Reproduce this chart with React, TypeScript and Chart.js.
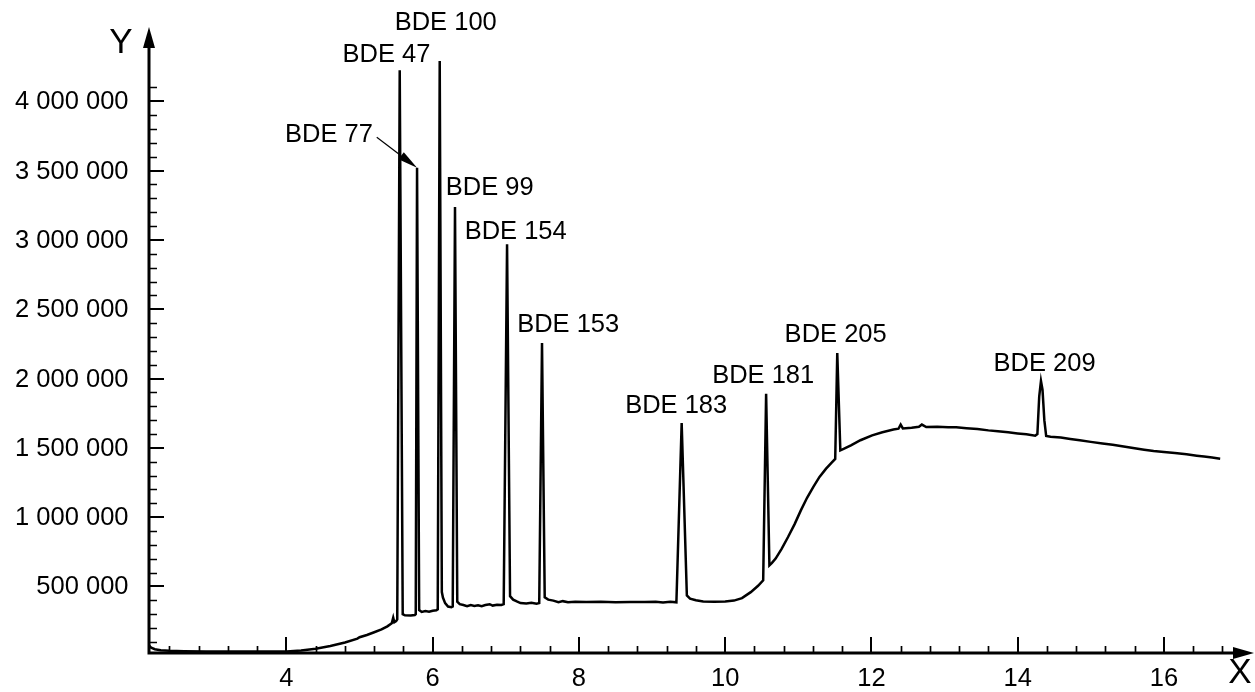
import React, { useEffect, useRef } from "react";
import { Chart, registerables } from "chart.js";

Chart.register(...registerables);

// Chromatogram trace: retention time (min) and detector response
const retentionTime = [
  2.12, 2.15, 2.2, 2.28, 2.4, 2.6, 2.9, 3.3, 3.7, 4.0,
  4.2, 4.4, 4.6, 4.8, 4.97, 5.0, 5.1, 5.2, 5.3, 5.38,
  5.44, 5.46, 5.475, 5.5, 5.515, 5.549, 5.59, 5.62, 5.7, 5.755,
  5.768, 5.786, 5.815, 5.85, 5.9, 5.95, 6.0, 6.05, 6.069, 6.096,
  6.125, 6.14, 6.17, 6.21, 6.255, 6.274, 6.305, 6.336, 6.37, 6.42,
  6.47, 6.52, 6.57, 6.62, 6.67, 6.72, 6.78, 6.82, 6.88, 6.94,
  6.971, 7.017, 7.058, 7.1, 7.15, 7.2, 7.28, 7.35, 7.42, 7.457,
  7.495, 7.532, 7.58, 7.65, 7.72, 7.78, 7.85, 7.95, 8.1, 8.3,
  8.5, 8.7, 8.9, 9.05, 9.15, 9.25, 9.333, 9.405, 9.476, 9.52,
  9.6, 9.7, 9.85, 10.0, 10.12, 10.23, 10.35, 10.45, 10.52, 10.56,
  10.605, 10.64, 10.69, 10.77, 10.86, 10.95, 11.035, 11.12, 11.206, 11.29,
  11.38, 11.45, 11.505, 11.533, 11.575, 11.62, 11.72, 11.85, 12.01, 12.15,
  12.3, 12.37, 12.4, 12.43, 12.55, 12.65, 12.69, 12.75, 12.9, 13.05,
  13.16, 13.3, 13.45, 13.6, 13.73, 13.87, 14.0, 14.12, 14.24, 14.27,
  14.295, 14.319, 14.34, 14.365, 14.39, 14.45, 14.59, 14.72, 14.85, 15.0,
  15.16, 15.3, 15.45, 15.6, 15.73, 15.86, 16.0, 16.15, 16.31, 16.45,
  16.55, 16.66, 16.77,
];

const intensity = [
  75000, 58000, 47000, 40000, 36000, 33000, 31000, 30000, 30000, 31000,
  38000, 50000, 70000, 96000, 124000, 134000, 150000, 170000, 190000, 212000,
  235000, 275000, 242000, 250000, 262000, 4224000, 300000, 292000, 290000, 294000,
  300000, 3520000, 330000, 316000, 322000, 318000, 325000, 328000, 335000, 4290000,
  460000, 420000, 380000, 355000, 350000, 355000, 3237000, 390000, 372000, 366000,
  358000, 366000, 360000, 364000, 358000, 366000, 372000, 362000, 368000, 366000,
  372000, 2968000, 430000, 405000, 392000, 380000, 378000, 382000, 376000, 380000,
  2256000, 422000, 405000, 398000, 386000, 394000, 386000, 390000, 388000, 389000,
  387000, 388000, 388000, 390000, 385000, 390000, 386000, 1679000, 435000, 412000,
  400000, 392000, 390000, 392000, 398000, 416000, 459000, 505000, 545000, 1891000,
  652000, 670000, 701000, 770000, 857000, 950000, 1049000, 1140000, 1218000, 1290000,
  1350000, 1390000, 1420000, 2184000, 1482000, 1492000, 1518000, 1555000, 1590000, 1612000,
  1632000, 1638000, 1668000, 1640000, 1645000, 1652000, 1668000, 1650000, 1652000, 1648000,
  1648000, 1642000, 1636000, 1626000, 1619000, 1612000, 1604000, 1598000, 1588000, 1600000,
  1870000, 1982000, 1920000, 1700000, 1586000, 1580000, 1574000, 1564000, 1555000, 1543000,
  1531000, 1522000, 1510000, 1497000, 1487000, 1478000, 1470000, 1462000, 1453000, 1443000,
  1437000, 1430000, 1422000,
];

// Axis ticks
const yTickValues = [500000, 1000000, 1500000, 2000000, 2500000, 3000000, 3500000, 4000000];
const yTickLabels = ["500 000", "1 000 000", "1 500 000", "2 000 000", "2 500 000", "3 000 000", "3 500 000", "4 000 000"];
const xTickValues = [4, 6, 8, 10, 12, 14, 16];
const xTickLabels = ["4", "6", "8", "10", "12", "14", "16"];

// Congener names and where their labels sit (time, response)
const peakNames = ["BDE 47", "BDE 77", "BDE 100", "BDE 99", "BDE 154", "BDE 153", "BDE 183", "BDE 181", "BDE 205", "BDE 209"];
const peakLabelTime = [5.367, 4.581, 6.178, 6.78, 7.135, 7.853, 9.33, 10.52, 11.511, 14.369];
const peakLabelResponse = [4332000, 3755000, 4563000, 3372000, 3057000, 2389000, 1800000, 2016000, 2312000, 2103000];

// Leader arrow from the BDE 77 label to the apex of its peak
const bde77ArrowFrom = { x: 5.235, y: 3740000 };
const bde77Apex = { x: 5.786, y: 3520000 };

const FONT = '"Liberation Sans", Arial, sans-serif';
const LABEL_SIZE = 25.5;

function drawText(
  ctx: CanvasRenderingContext2D,
  text: string,
  x: number,
  y: number,
  size: number,
  align: CanvasTextAlign
) {
  ctx.save();
  ctx.font = `${size}px ${FONT}`;
  ctx.textAlign = align;
  ctx.textBaseline = "middle";
  ctx.fillStyle = "#000";
  ctx.fillText(text, x, y);
  ctx.restore();
}

const axesPlugin = {
  id: "chromAxes",
  afterDraw(chart: any) {
    const ctx: CanvasRenderingContext2D = chart.ctx;
    const xs = chart.scales.x;
    const ys = chart.scales.y;
    const area = chart.chartArea;
    const x0 = area.left;
    const y0 = area.bottom;

    ctx.save();
    ctx.strokeStyle = "#000";
    ctx.fillStyle = "#000";
    ctx.lineCap = "butt";

    // axis lines
    ctx.lineWidth = 3;
    ctx.beginPath();
    ctx.moveTo(x0, y0 + 1.5);
    ctx.lineTo(x0, 40);
    ctx.moveTo(x0 - 1.5, y0);
    ctx.lineTo(1240, y0);
    ctx.stroke();

    // arrow heads
    ctx.beginPath();
    ctx.moveTo(x0, 27);
    ctx.lineTo(x0 - 6, 48);
    ctx.lineTo(x0 + 6, 48);
    ctx.closePath();
    ctx.fill();
    ctx.beginPath();
    ctx.moveTo(1254, y0);
    ctx.lineTo(1233, y0 - 6);
    ctx.lineTo(1233, y0 + 6);
    ctx.closePath();
    ctx.fill();

    // minor ticks
    ctx.lineWidth = 1.7;
    ctx.beginPath();
    for (let v = 100000; v <= 4100000; v += 100000) {
      if (v % 500000 === 0) continue;
      const py = Math.round(ys.getPixelForValue(v)) + 0.5;
      ctx.moveTo(x0, py);
      ctx.lineTo(x0 + 8, py);
    }
    for (let k = 0; k <= 36; k++) {
      const t = 2.4 + k * 0.4;
      if (Math.abs(t / 2 - Math.round(t / 2)) < 1e-6) continue;
      const px = Math.round(xs.getPixelForValue(t)) + 0.5;
      ctx.moveTo(px, y0);
      ctx.lineTo(px, y0 - 7);
    }
    ctx.stroke();

    // major ticks
    ctx.lineWidth = 2;
    ctx.beginPath();
    yTickValues.forEach((v) => {
      const py = Math.round(ys.getPixelForValue(v));
      ctx.moveTo(x0, py);
      ctx.lineTo(x0 + 15, py);
    });
    xTickValues.forEach((t) => {
      const px = Math.round(xs.getPixelForValue(t));
      ctx.moveTo(px, y0);
      ctx.lineTo(px, y0 - 16);
    });
    ctx.stroke();

    // tick labels
    yTickValues.forEach((v, i) => {
      drawText(ctx, yTickLabels[i], 128.5, ys.getPixelForValue(v) + 1, LABEL_SIZE, "right");
    });
    xTickValues.forEach((t, i) => {
      drawText(ctx, xTickLabels[i], xs.getPixelForValue(t), 679, LABEL_SIZE, "center");
    });

    // axis titles
    drawText(ctx, "Y", 121, 43, 35, "center");
    drawText(ctx, "X", 1240, 673, 35, "center");

    // peak labels
    peakNames.forEach((name, i) => {
      drawText(
        ctx,
        name,
        xs.getPixelForValue(peakLabelTime[i]),
        ys.getPixelForValue(peakLabelResponse[i]),
        LABEL_SIZE,
        "center"
      );
    });

    // BDE 77 leader arrow
    const ax = xs.getPixelForValue(bde77ArrowFrom.x);
    const ay = ys.getPixelForValue(bde77ArrowFrom.y);
    const bx = xs.getPixelForValue(bde77Apex.x);
    const by = ys.getPixelForValue(bde77Apex.y);
    const len = Math.hypot(bx - ax, by - ay);
    const ux = (bx - ax) / len;
    const uy = (by - ay) / len;
    const headLen = 20;
    const headHalf = 4.5;
    const hx = bx - ux * headLen;
    const hy = by - uy * headLen;
    ctx.lineWidth = 1.2;
    ctx.beginPath();
    ctx.moveTo(ax, ay);
    ctx.lineTo(hx, hy);
    ctx.stroke();
    ctx.beginPath();
    ctx.moveTo(bx, by);
    ctx.lineTo(hx - uy * headHalf, hy + ux * headHalf);
    ctx.lineTo(hx + uy * headHalf, hy - ux * headHalf);
    ctx.closePath();
    ctx.fill();

    ctx.restore();
  },
};

export default function App() {
  const canvasRef = useRef<HTMLCanvasElement | null>(null);

  useEffect(() => {
    const canvas = canvasRef.current;
    if (!canvas) return;
    const chart = new Chart(canvas, {
      type: "scatter",
      data: {
        datasets: [
          {
            data: retentionTime.map((t, i) => ({ x: t, y: intensity[i] })),
            showLine: true,
            borderColor: "#000",
            backgroundColor: "#000",
            borderWidth: 2.5,
            pointRadius: 0,
            tension: 0,
            fill: false,
          },
        ],
      },
      options: {
        responsive: true,
        maintainAspectRatio: false,
        animation: false,
        events: [],
        layout: { padding: { left: 149, right: 18, top: 32, bottom: 39 } },
        scales: {
          x: { type: "linear", min: 2.12, max: 17.0, display: false },
          y: { type: "linear", min: 20000, max: 4500000, display: false },
        },
        plugins: {
          legend: { display: false },
          tooltip: { enabled: false },
        },
      },
      plugins: [axesPlugin],
    });
    return () => chart.destroy();
  }, []);

  return (
    <div
      style={{
        position: "fixed",
        left: 0,
        top: 0,
        width: 1255,
        height: 692,
        background: "#fff",
      }}
    >
      <canvas ref={canvasRef} />
    </div>
  );
}
